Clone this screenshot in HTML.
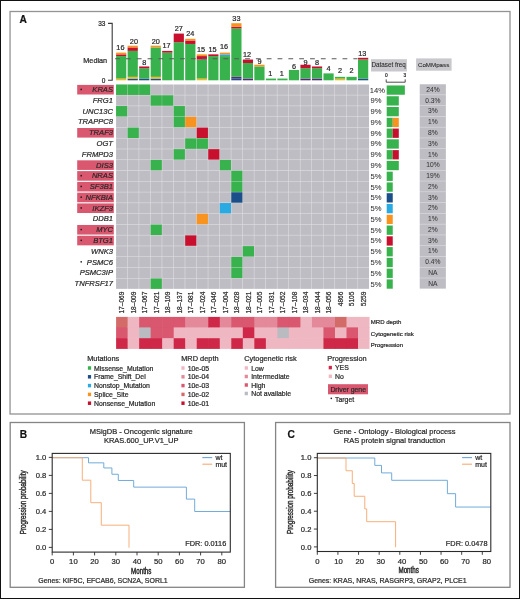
<!DOCTYPE html>
<html><head><meta charset="utf-8"><title>Figure</title>
<style>html,body{margin:0;padding:0;background:#fff;}body{width:520px;height:599px;overflow:hidden;font-family:"Liberation Sans", sans-serif;}</style>
</head><body>
<svg width="520" height="599" viewBox="0 0 520 599" style="display:block">
<rect x="0" y="0" width="520" height="599" fill="#fff"/>
<rect x="0.5" y="0.5" width="519" height="598" fill="none" stroke="#111" stroke-width="1"/>
<rect x="10.05" y="11.5" width="499.95" height="402.5" fill="none" stroke="#939393" stroke-width="1.3"/>
<rect x="10.2" y="422.5" width="234.2" height="164.8" fill="none" stroke="#858585" stroke-width="1.3"/>
<rect x="275.6" y="422.5" width="234.4" height="164.8" fill="none" stroke="#858585" stroke-width="1.3"/>
<rect x="116.10" y="78.57" width="10.2" height="1.73" fill="#f6b81a"/>
<rect x="116.10" y="56.08" width="10.2" height="22.49" fill="#38b24c"/>
<rect x="116.10" y="54.35" width="10.2" height="1.73" fill="#c8102e"/>
<rect x="116.10" y="52.62" width="10.2" height="1.73" fill="#f7931e"/>
<rect x="127.62" y="78.57" width="10.2" height="1.73" fill="#1b4f8a"/>
<rect x="127.62" y="76.84" width="10.2" height="1.73" fill="#f6b81a"/>
<rect x="127.62" y="50.89" width="10.2" height="25.95" fill="#38b24c"/>
<rect x="127.62" y="47.43" width="10.2" height="3.46" fill="#c8102e"/>
<rect x="127.62" y="45.70" width="10.2" height="1.73" fill="#f7931e"/>
<rect x="139.14" y="78.57" width="10.2" height="1.73" fill="#1b4f8a"/>
<rect x="139.14" y="68.19" width="10.2" height="10.38" fill="#38b24c"/>
<rect x="139.14" y="66.46" width="10.2" height="1.73" fill="#c8102e"/>
<rect x="150.66" y="78.57" width="10.2" height="1.73" fill="#1b4f8a"/>
<rect x="150.66" y="76.84" width="10.2" height="1.73" fill="#f6b81a"/>
<rect x="150.66" y="47.43" width="10.2" height="29.41" fill="#38b24c"/>
<rect x="150.66" y="45.70" width="10.2" height="1.73" fill="#f7931e"/>
<rect x="162.18" y="52.62" width="10.2" height="27.68" fill="#38b24c"/>
<rect x="162.18" y="50.89" width="10.2" height="1.73" fill="#c8102e"/>
<rect x="173.70" y="42.24" width="10.2" height="38.06" fill="#38b24c"/>
<rect x="173.70" y="33.59" width="10.2" height="8.65" fill="#c8102e"/>
<rect x="185.22" y="43.97" width="10.2" height="36.33" fill="#38b24c"/>
<rect x="185.22" y="40.51" width="10.2" height="3.46" fill="#c8102e"/>
<rect x="185.22" y="38.78" width="10.2" height="1.73" fill="#f7931e"/>
<rect x="196.74" y="78.57" width="10.2" height="1.73" fill="#f6b81a"/>
<rect x="196.74" y="59.54" width="10.2" height="19.03" fill="#38b24c"/>
<rect x="196.74" y="56.08" width="10.2" height="3.46" fill="#c8102e"/>
<rect x="196.74" y="54.35" width="10.2" height="1.73" fill="#f7931e"/>
<rect x="208.26" y="56.08" width="10.2" height="24.22" fill="#38b24c"/>
<rect x="208.26" y="54.35" width="10.2" height="1.73" fill="#c8102e"/>
<rect x="219.78" y="56.08" width="10.2" height="24.22" fill="#38b24c"/>
<rect x="219.78" y="54.35" width="10.2" height="1.73" fill="#2aaae2"/>
<rect x="219.78" y="52.62" width="10.2" height="1.73" fill="#f7931e"/>
<rect x="231.30" y="78.57" width="10.2" height="1.73" fill="#1b4f8a"/>
<rect x="231.30" y="76.84" width="10.2" height="1.73" fill="#5a2580"/>
<rect x="231.30" y="28.40" width="10.2" height="48.44" fill="#38b24c"/>
<rect x="231.30" y="26.67" width="10.2" height="1.73" fill="#c8102e"/>
<rect x="231.30" y="23.21" width="10.2" height="3.46" fill="#f7931e"/>
<rect x="242.82" y="78.57" width="10.2" height="1.73" fill="#5a2580"/>
<rect x="242.82" y="63.00" width="10.2" height="15.57" fill="#38b24c"/>
<rect x="242.82" y="59.54" width="10.2" height="3.46" fill="#c8102e"/>
<rect x="254.34" y="66.46" width="10.2" height="13.84" fill="#38b24c"/>
<rect x="254.34" y="64.73" width="10.2" height="1.73" fill="#f7931e"/>
<rect x="265.86" y="78.57" width="10.2" height="1.73" fill="#38b24c"/>
<rect x="277.38" y="78.57" width="10.2" height="1.73" fill="#38b24c"/>
<rect x="288.90" y="69.92" width="10.2" height="10.38" fill="#38b24c"/>
<rect x="300.42" y="78.57" width="10.2" height="1.73" fill="#5a2580"/>
<rect x="300.42" y="68.19" width="10.2" height="10.38" fill="#38b24c"/>
<rect x="300.42" y="64.73" width="10.2" height="3.46" fill="#c8102e"/>
<rect x="311.94" y="78.57" width="10.2" height="1.73" fill="#5a2580"/>
<rect x="311.94" y="68.19" width="10.2" height="10.38" fill="#38b24c"/>
<rect x="311.94" y="66.46" width="10.2" height="1.73" fill="#c8102e"/>
<rect x="323.46" y="73.38" width="10.2" height="6.92" fill="#38b24c"/>
<rect x="334.98" y="78.57" width="10.2" height="1.73" fill="#f6b81a"/>
<rect x="334.98" y="76.84" width="10.2" height="1.73" fill="#38b24c"/>
<rect x="346.50" y="76.84" width="10.2" height="3.46" fill="#38b24c"/>
<rect x="358.02" y="78.57" width="10.2" height="1.73" fill="#1b4f8a"/>
<rect x="358.02" y="59.54" width="10.2" height="19.03" fill="#38b24c"/>
<rect x="358.02" y="57.81" width="10.2" height="1.73" fill="#c8102e"/>
<line x1="115.1" y1="58.8" x2="357.5" y2="58.8" stroke="#5a5a5a" stroke-width="1.05" stroke-dasharray="4.8 6.03"/>
<path d="M108 23.4 H112.2 V80.3 H108" fill="none" stroke="#3a3a3a" stroke-width="1.1"/>
<rect x="371" y="59.2" width="35.9" height="12.3" fill="#c9c9cd"/>
<rect x="416.1" y="58.4" width="35.5" height="12.3" fill="#c9c9cd"/>
<path d="M386.2 79.4 V82.2 H405.2 V79.4" fill="none" stroke="#3a3a3a" stroke-width="0.9"/>
<rect x="77.2" y="84.90" width="36.6" height="9.6" fill="#d9586f"/>
<circle cx="81.2" cy="89.45" r="0.85" fill="#222"/>
<rect x="77.2" y="128.00" width="36.6" height="9.6" fill="#d9586f"/>
<rect x="77.2" y="160.32" width="36.6" height="9.6" fill="#d9586f"/>
<rect x="77.2" y="171.10" width="36.6" height="9.6" fill="#d9586f"/>
<circle cx="81.2" cy="175.65" r="0.85" fill="#222"/>
<rect x="77.2" y="181.88" width="36.6" height="9.6" fill="#d9586f"/>
<circle cx="81.2" cy="186.43" r="0.85" fill="#222"/>
<rect x="77.2" y="192.65" width="36.6" height="9.6" fill="#d9586f"/>
<circle cx="81.2" cy="197.20" r="0.85" fill="#222"/>
<rect x="77.2" y="203.42" width="36.6" height="9.6" fill="#d9586f"/>
<circle cx="81.2" cy="207.97" r="0.85" fill="#222"/>
<rect x="77.2" y="224.97" width="36.6" height="9.6" fill="#d9586f"/>
<circle cx="81.2" cy="229.53" r="0.85" fill="#222"/>
<rect x="77.2" y="235.75" width="36.6" height="9.6" fill="#d9586f"/>
<circle cx="81.2" cy="240.30" r="0.85" fill="#222"/>
<circle cx="81.2" cy="261.85" r="0.85" fill="#222"/>
<rect x="116.15" y="84.60" width="252.89" height="204.17" fill="#e0e0e4"/>
<rect x="116.05" y="84.50" width="11.25" height="10.45" fill="#38b24c"/>
<rect x="127.57" y="84.50" width="11.25" height="10.45" fill="#38b24c"/>
<rect x="139.09" y="84.50" width="11.25" height="10.45" fill="#38b24c"/>
<rect x="150.71" y="84.60" width="10.97" height="10.225" fill="#bebdc3"/>
<rect x="162.23" y="84.60" width="10.97" height="10.225" fill="#bebdc3"/>
<rect x="173.75" y="84.60" width="10.97" height="10.225" fill="#bebdc3"/>
<rect x="185.27" y="84.60" width="10.97" height="10.225" fill="#bebdc3"/>
<rect x="196.79" y="84.60" width="10.97" height="10.225" fill="#bebdc3"/>
<rect x="208.31" y="84.60" width="10.97" height="10.225" fill="#bebdc3"/>
<rect x="219.83" y="84.60" width="10.97" height="10.225" fill="#bebdc3"/>
<rect x="231.35" y="84.60" width="10.97" height="10.225" fill="#bebdc3"/>
<rect x="242.87" y="84.60" width="10.97" height="10.225" fill="#bebdc3"/>
<rect x="254.39" y="84.60" width="10.97" height="10.225" fill="#bebdc3"/>
<rect x="265.91" y="84.60" width="10.97" height="10.225" fill="#bebdc3"/>
<rect x="277.43" y="84.60" width="10.97" height="10.225" fill="#bebdc3"/>
<rect x="288.95" y="84.60" width="10.97" height="10.225" fill="#bebdc3"/>
<rect x="300.47" y="84.60" width="10.97" height="10.225" fill="#bebdc3"/>
<rect x="311.99" y="84.60" width="10.97" height="10.225" fill="#bebdc3"/>
<rect x="323.51" y="84.60" width="10.97" height="10.225" fill="#bebdc3"/>
<rect x="335.03" y="84.60" width="10.97" height="10.225" fill="#bebdc3"/>
<rect x="346.55" y="84.60" width="10.97" height="10.225" fill="#bebdc3"/>
<rect x="358.07" y="84.60" width="10.97" height="10.225" fill="#bebdc3"/>
<rect x="116.15" y="95.38" width="10.97" height="10.225" fill="#bebdc3"/>
<rect x="127.67" y="95.38" width="10.97" height="10.225" fill="#bebdc3"/>
<rect x="139.19" y="95.38" width="10.97" height="10.225" fill="#bebdc3"/>
<rect x="150.61" y="95.28" width="11.25" height="10.45" fill="#38b24c"/>
<rect x="162.13" y="95.28" width="11.25" height="10.45" fill="#38b24c"/>
<rect x="173.75" y="95.38" width="10.97" height="10.225" fill="#bebdc3"/>
<rect x="185.27" y="95.38" width="10.97" height="10.225" fill="#bebdc3"/>
<rect x="196.79" y="95.38" width="10.97" height="10.225" fill="#bebdc3"/>
<rect x="208.31" y="95.38" width="10.97" height="10.225" fill="#bebdc3"/>
<rect x="219.83" y="95.38" width="10.97" height="10.225" fill="#bebdc3"/>
<rect x="231.35" y="95.38" width="10.97" height="10.225" fill="#bebdc3"/>
<rect x="242.87" y="95.38" width="10.97" height="10.225" fill="#bebdc3"/>
<rect x="254.39" y="95.38" width="10.97" height="10.225" fill="#bebdc3"/>
<rect x="265.91" y="95.38" width="10.97" height="10.225" fill="#bebdc3"/>
<rect x="277.43" y="95.38" width="10.97" height="10.225" fill="#bebdc3"/>
<rect x="288.95" y="95.38" width="10.97" height="10.225" fill="#bebdc3"/>
<rect x="300.47" y="95.38" width="10.97" height="10.225" fill="#bebdc3"/>
<rect x="311.99" y="95.38" width="10.97" height="10.225" fill="#bebdc3"/>
<rect x="323.51" y="95.38" width="10.97" height="10.225" fill="#bebdc3"/>
<rect x="335.03" y="95.38" width="10.97" height="10.225" fill="#bebdc3"/>
<rect x="346.55" y="95.38" width="10.97" height="10.225" fill="#bebdc3"/>
<rect x="358.07" y="95.38" width="10.97" height="10.225" fill="#bebdc3"/>
<rect x="116.05" y="106.05" width="11.25" height="10.45" fill="#38b24c"/>
<rect x="127.67" y="106.15" width="10.97" height="10.225" fill="#bebdc3"/>
<rect x="139.19" y="106.15" width="10.97" height="10.225" fill="#bebdc3"/>
<rect x="150.71" y="106.15" width="10.97" height="10.225" fill="#bebdc3"/>
<rect x="162.23" y="106.15" width="10.97" height="10.225" fill="#bebdc3"/>
<rect x="173.65" y="106.05" width="11.25" height="10.45" fill="#38b24c"/>
<rect x="185.27" y="106.15" width="10.97" height="10.225" fill="#bebdc3"/>
<rect x="196.79" y="106.15" width="10.97" height="10.225" fill="#bebdc3"/>
<rect x="208.31" y="106.15" width="10.97" height="10.225" fill="#bebdc3"/>
<rect x="219.83" y="106.15" width="10.97" height="10.225" fill="#bebdc3"/>
<rect x="231.35" y="106.15" width="10.97" height="10.225" fill="#bebdc3"/>
<rect x="242.87" y="106.15" width="10.97" height="10.225" fill="#bebdc3"/>
<rect x="254.39" y="106.15" width="10.97" height="10.225" fill="#bebdc3"/>
<rect x="265.91" y="106.15" width="10.97" height="10.225" fill="#bebdc3"/>
<rect x="277.43" y="106.15" width="10.97" height="10.225" fill="#bebdc3"/>
<rect x="288.95" y="106.15" width="10.97" height="10.225" fill="#bebdc3"/>
<rect x="300.47" y="106.15" width="10.97" height="10.225" fill="#bebdc3"/>
<rect x="311.99" y="106.15" width="10.97" height="10.225" fill="#bebdc3"/>
<rect x="323.51" y="106.15" width="10.97" height="10.225" fill="#bebdc3"/>
<rect x="335.03" y="106.15" width="10.97" height="10.225" fill="#bebdc3"/>
<rect x="346.55" y="106.15" width="10.97" height="10.225" fill="#bebdc3"/>
<rect x="358.07" y="106.15" width="10.97" height="10.225" fill="#bebdc3"/>
<rect x="116.15" y="116.92" width="10.97" height="10.225" fill="#bebdc3"/>
<rect x="127.67" y="116.92" width="10.97" height="10.225" fill="#bebdc3"/>
<rect x="139.19" y="116.92" width="10.97" height="10.225" fill="#bebdc3"/>
<rect x="150.71" y="116.92" width="10.97" height="10.225" fill="#bebdc3"/>
<rect x="162.23" y="116.92" width="10.97" height="10.225" fill="#bebdc3"/>
<rect x="173.65" y="116.83" width="11.25" height="10.45" fill="#38b24c"/>
<rect x="185.17" y="116.83" width="11.25" height="10.45" fill="#f7931e"/>
<rect x="196.79" y="116.92" width="10.97" height="10.225" fill="#bebdc3"/>
<rect x="208.31" y="116.92" width="10.97" height="10.225" fill="#bebdc3"/>
<rect x="219.83" y="116.92" width="10.97" height="10.225" fill="#bebdc3"/>
<rect x="231.35" y="116.92" width="10.97" height="10.225" fill="#bebdc3"/>
<rect x="242.87" y="116.92" width="10.97" height="10.225" fill="#bebdc3"/>
<rect x="254.39" y="116.92" width="10.97" height="10.225" fill="#bebdc3"/>
<rect x="265.91" y="116.92" width="10.97" height="10.225" fill="#bebdc3"/>
<rect x="277.43" y="116.92" width="10.97" height="10.225" fill="#bebdc3"/>
<rect x="288.95" y="116.92" width="10.97" height="10.225" fill="#bebdc3"/>
<rect x="300.47" y="116.92" width="10.97" height="10.225" fill="#bebdc3"/>
<rect x="311.99" y="116.92" width="10.97" height="10.225" fill="#bebdc3"/>
<rect x="323.51" y="116.92" width="10.97" height="10.225" fill="#bebdc3"/>
<rect x="335.03" y="116.92" width="10.97" height="10.225" fill="#bebdc3"/>
<rect x="346.55" y="116.92" width="10.97" height="10.225" fill="#bebdc3"/>
<rect x="358.07" y="116.92" width="10.97" height="10.225" fill="#bebdc3"/>
<rect x="116.15" y="127.70" width="10.97" height="10.225" fill="#bebdc3"/>
<rect x="127.57" y="127.60" width="11.25" height="10.45" fill="#38b24c"/>
<rect x="139.19" y="127.70" width="10.97" height="10.225" fill="#bebdc3"/>
<rect x="150.71" y="127.70" width="10.97" height="10.225" fill="#bebdc3"/>
<rect x="162.23" y="127.70" width="10.97" height="10.225" fill="#bebdc3"/>
<rect x="173.75" y="127.70" width="10.97" height="10.225" fill="#bebdc3"/>
<rect x="185.27" y="127.70" width="10.97" height="10.225" fill="#bebdc3"/>
<rect x="196.69" y="127.60" width="11.25" height="10.45" fill="#c8102e"/>
<rect x="208.31" y="127.70" width="10.97" height="10.225" fill="#bebdc3"/>
<rect x="219.83" y="127.70" width="10.97" height="10.225" fill="#bebdc3"/>
<rect x="231.35" y="127.70" width="10.97" height="10.225" fill="#bebdc3"/>
<rect x="242.87" y="127.70" width="10.97" height="10.225" fill="#bebdc3"/>
<rect x="254.39" y="127.70" width="10.97" height="10.225" fill="#bebdc3"/>
<rect x="265.91" y="127.70" width="10.97" height="10.225" fill="#bebdc3"/>
<rect x="277.43" y="127.70" width="10.97" height="10.225" fill="#bebdc3"/>
<rect x="288.95" y="127.70" width="10.97" height="10.225" fill="#bebdc3"/>
<rect x="300.47" y="127.70" width="10.97" height="10.225" fill="#bebdc3"/>
<rect x="311.99" y="127.70" width="10.97" height="10.225" fill="#bebdc3"/>
<rect x="323.51" y="127.70" width="10.97" height="10.225" fill="#bebdc3"/>
<rect x="335.03" y="127.70" width="10.97" height="10.225" fill="#bebdc3"/>
<rect x="346.55" y="127.70" width="10.97" height="10.225" fill="#bebdc3"/>
<rect x="358.07" y="127.70" width="10.97" height="10.225" fill="#bebdc3"/>
<rect x="116.15" y="138.48" width="10.97" height="10.225" fill="#bebdc3"/>
<rect x="127.67" y="138.48" width="10.97" height="10.225" fill="#bebdc3"/>
<rect x="139.19" y="138.48" width="10.97" height="10.225" fill="#bebdc3"/>
<rect x="150.71" y="138.48" width="10.97" height="10.225" fill="#bebdc3"/>
<rect x="162.23" y="138.48" width="10.97" height="10.225" fill="#bebdc3"/>
<rect x="173.75" y="138.48" width="10.97" height="10.225" fill="#bebdc3"/>
<rect x="185.17" y="138.38" width="11.25" height="10.45" fill="#38b24c"/>
<rect x="196.69" y="138.38" width="11.25" height="10.45" fill="#38b24c"/>
<rect x="208.31" y="138.48" width="10.97" height="10.225" fill="#bebdc3"/>
<rect x="219.83" y="138.48" width="10.97" height="10.225" fill="#bebdc3"/>
<rect x="231.35" y="138.48" width="10.97" height="10.225" fill="#bebdc3"/>
<rect x="242.87" y="138.48" width="10.97" height="10.225" fill="#bebdc3"/>
<rect x="254.39" y="138.48" width="10.97" height="10.225" fill="#bebdc3"/>
<rect x="265.91" y="138.48" width="10.97" height="10.225" fill="#bebdc3"/>
<rect x="277.43" y="138.48" width="10.97" height="10.225" fill="#bebdc3"/>
<rect x="288.95" y="138.48" width="10.97" height="10.225" fill="#bebdc3"/>
<rect x="300.47" y="138.48" width="10.97" height="10.225" fill="#bebdc3"/>
<rect x="311.99" y="138.48" width="10.97" height="10.225" fill="#bebdc3"/>
<rect x="323.51" y="138.48" width="10.97" height="10.225" fill="#bebdc3"/>
<rect x="335.03" y="138.48" width="10.97" height="10.225" fill="#bebdc3"/>
<rect x="346.55" y="138.48" width="10.97" height="10.225" fill="#bebdc3"/>
<rect x="358.07" y="138.48" width="10.97" height="10.225" fill="#bebdc3"/>
<rect x="116.15" y="149.25" width="10.97" height="10.225" fill="#bebdc3"/>
<rect x="127.67" y="149.25" width="10.97" height="10.225" fill="#bebdc3"/>
<rect x="139.19" y="149.25" width="10.97" height="10.225" fill="#bebdc3"/>
<rect x="150.71" y="149.25" width="10.97" height="10.225" fill="#bebdc3"/>
<rect x="162.23" y="149.25" width="10.97" height="10.225" fill="#bebdc3"/>
<rect x="173.65" y="149.15" width="11.25" height="10.45" fill="#38b24c"/>
<rect x="185.27" y="149.25" width="10.97" height="10.225" fill="#bebdc3"/>
<rect x="196.79" y="149.25" width="10.97" height="10.225" fill="#bebdc3"/>
<rect x="208.21" y="149.15" width="11.25" height="10.45" fill="#c8102e"/>
<rect x="219.83" y="149.25" width="10.97" height="10.225" fill="#bebdc3"/>
<rect x="231.35" y="149.25" width="10.97" height="10.225" fill="#bebdc3"/>
<rect x="242.87" y="149.25" width="10.97" height="10.225" fill="#bebdc3"/>
<rect x="254.39" y="149.25" width="10.97" height="10.225" fill="#bebdc3"/>
<rect x="265.91" y="149.25" width="10.97" height="10.225" fill="#bebdc3"/>
<rect x="277.43" y="149.25" width="10.97" height="10.225" fill="#bebdc3"/>
<rect x="288.95" y="149.25" width="10.97" height="10.225" fill="#bebdc3"/>
<rect x="300.47" y="149.25" width="10.97" height="10.225" fill="#bebdc3"/>
<rect x="311.99" y="149.25" width="10.97" height="10.225" fill="#bebdc3"/>
<rect x="323.51" y="149.25" width="10.97" height="10.225" fill="#bebdc3"/>
<rect x="335.03" y="149.25" width="10.97" height="10.225" fill="#bebdc3"/>
<rect x="346.55" y="149.25" width="10.97" height="10.225" fill="#bebdc3"/>
<rect x="358.07" y="149.25" width="10.97" height="10.225" fill="#bebdc3"/>
<rect x="116.15" y="160.03" width="10.97" height="10.225" fill="#bebdc3"/>
<rect x="127.67" y="160.03" width="10.97" height="10.225" fill="#bebdc3"/>
<rect x="139.19" y="160.03" width="10.97" height="10.225" fill="#bebdc3"/>
<rect x="150.61" y="159.92" width="11.25" height="10.45" fill="#38b24c"/>
<rect x="162.23" y="160.03" width="10.97" height="10.225" fill="#bebdc3"/>
<rect x="173.75" y="160.03" width="10.97" height="10.225" fill="#bebdc3"/>
<rect x="185.27" y="160.03" width="10.97" height="10.225" fill="#bebdc3"/>
<rect x="196.79" y="160.03" width="10.97" height="10.225" fill="#bebdc3"/>
<rect x="208.31" y="160.03" width="10.97" height="10.225" fill="#bebdc3"/>
<rect x="219.73" y="159.92" width="11.25" height="10.45" fill="#38b24c"/>
<rect x="231.35" y="160.03" width="10.97" height="10.225" fill="#bebdc3"/>
<rect x="242.87" y="160.03" width="10.97" height="10.225" fill="#bebdc3"/>
<rect x="254.39" y="160.03" width="10.97" height="10.225" fill="#bebdc3"/>
<rect x="265.91" y="160.03" width="10.97" height="10.225" fill="#bebdc3"/>
<rect x="277.43" y="160.03" width="10.97" height="10.225" fill="#bebdc3"/>
<rect x="288.95" y="160.03" width="10.97" height="10.225" fill="#bebdc3"/>
<rect x="300.47" y="160.03" width="10.97" height="10.225" fill="#bebdc3"/>
<rect x="311.99" y="160.03" width="10.97" height="10.225" fill="#bebdc3"/>
<rect x="323.51" y="160.03" width="10.97" height="10.225" fill="#bebdc3"/>
<rect x="335.03" y="160.03" width="10.97" height="10.225" fill="#bebdc3"/>
<rect x="346.55" y="160.03" width="10.97" height="10.225" fill="#bebdc3"/>
<rect x="358.07" y="160.03" width="10.97" height="10.225" fill="#bebdc3"/>
<rect x="116.15" y="170.80" width="10.97" height="10.225" fill="#bebdc3"/>
<rect x="127.67" y="170.80" width="10.97" height="10.225" fill="#bebdc3"/>
<rect x="139.19" y="170.80" width="10.97" height="10.225" fill="#bebdc3"/>
<rect x="150.71" y="170.80" width="10.97" height="10.225" fill="#bebdc3"/>
<rect x="162.23" y="170.80" width="10.97" height="10.225" fill="#bebdc3"/>
<rect x="173.75" y="170.80" width="10.97" height="10.225" fill="#bebdc3"/>
<rect x="185.27" y="170.80" width="10.97" height="10.225" fill="#bebdc3"/>
<rect x="196.79" y="170.80" width="10.97" height="10.225" fill="#bebdc3"/>
<rect x="208.31" y="170.80" width="10.97" height="10.225" fill="#bebdc3"/>
<rect x="219.83" y="170.80" width="10.97" height="10.225" fill="#bebdc3"/>
<rect x="231.25" y="170.70" width="11.25" height="10.45" fill="#38b24c"/>
<rect x="242.87" y="170.80" width="10.97" height="10.225" fill="#bebdc3"/>
<rect x="254.39" y="170.80" width="10.97" height="10.225" fill="#bebdc3"/>
<rect x="265.91" y="170.80" width="10.97" height="10.225" fill="#bebdc3"/>
<rect x="277.43" y="170.80" width="10.97" height="10.225" fill="#bebdc3"/>
<rect x="288.95" y="170.80" width="10.97" height="10.225" fill="#bebdc3"/>
<rect x="300.47" y="170.80" width="10.97" height="10.225" fill="#bebdc3"/>
<rect x="311.99" y="170.80" width="10.97" height="10.225" fill="#bebdc3"/>
<rect x="323.51" y="170.80" width="10.97" height="10.225" fill="#bebdc3"/>
<rect x="335.03" y="170.80" width="10.97" height="10.225" fill="#bebdc3"/>
<rect x="346.55" y="170.80" width="10.97" height="10.225" fill="#bebdc3"/>
<rect x="358.07" y="170.80" width="10.97" height="10.225" fill="#bebdc3"/>
<rect x="116.15" y="181.58" width="10.97" height="10.225" fill="#bebdc3"/>
<rect x="127.67" y="181.58" width="10.97" height="10.225" fill="#bebdc3"/>
<rect x="139.19" y="181.58" width="10.97" height="10.225" fill="#bebdc3"/>
<rect x="150.71" y="181.58" width="10.97" height="10.225" fill="#bebdc3"/>
<rect x="162.23" y="181.58" width="10.97" height="10.225" fill="#bebdc3"/>
<rect x="173.75" y="181.58" width="10.97" height="10.225" fill="#bebdc3"/>
<rect x="185.27" y="181.58" width="10.97" height="10.225" fill="#bebdc3"/>
<rect x="196.79" y="181.58" width="10.97" height="10.225" fill="#bebdc3"/>
<rect x="208.31" y="181.58" width="10.97" height="10.225" fill="#bebdc3"/>
<rect x="219.83" y="181.58" width="10.97" height="10.225" fill="#bebdc3"/>
<rect x="231.25" y="181.47" width="11.25" height="10.45" fill="#38b24c"/>
<rect x="242.87" y="181.58" width="10.97" height="10.225" fill="#bebdc3"/>
<rect x="254.39" y="181.58" width="10.97" height="10.225" fill="#bebdc3"/>
<rect x="265.91" y="181.58" width="10.97" height="10.225" fill="#bebdc3"/>
<rect x="277.43" y="181.58" width="10.97" height="10.225" fill="#bebdc3"/>
<rect x="288.95" y="181.58" width="10.97" height="10.225" fill="#bebdc3"/>
<rect x="300.47" y="181.58" width="10.97" height="10.225" fill="#bebdc3"/>
<rect x="311.99" y="181.58" width="10.97" height="10.225" fill="#bebdc3"/>
<rect x="323.51" y="181.58" width="10.97" height="10.225" fill="#bebdc3"/>
<rect x="335.03" y="181.58" width="10.97" height="10.225" fill="#bebdc3"/>
<rect x="346.55" y="181.58" width="10.97" height="10.225" fill="#bebdc3"/>
<rect x="358.07" y="181.58" width="10.97" height="10.225" fill="#bebdc3"/>
<rect x="116.15" y="192.35" width="10.97" height="10.225" fill="#bebdc3"/>
<rect x="127.67" y="192.35" width="10.97" height="10.225" fill="#bebdc3"/>
<rect x="139.19" y="192.35" width="10.97" height="10.225" fill="#bebdc3"/>
<rect x="150.71" y="192.35" width="10.97" height="10.225" fill="#bebdc3"/>
<rect x="162.23" y="192.35" width="10.97" height="10.225" fill="#bebdc3"/>
<rect x="173.75" y="192.35" width="10.97" height="10.225" fill="#bebdc3"/>
<rect x="185.27" y="192.35" width="10.97" height="10.225" fill="#bebdc3"/>
<rect x="196.79" y="192.35" width="10.97" height="10.225" fill="#bebdc3"/>
<rect x="208.31" y="192.35" width="10.97" height="10.225" fill="#bebdc3"/>
<rect x="219.83" y="192.35" width="10.97" height="10.225" fill="#bebdc3"/>
<rect x="231.25" y="192.25" width="11.25" height="10.45" fill="#1b4f8a"/>
<rect x="242.87" y="192.35" width="10.97" height="10.225" fill="#bebdc3"/>
<rect x="254.39" y="192.35" width="10.97" height="10.225" fill="#bebdc3"/>
<rect x="265.91" y="192.35" width="10.97" height="10.225" fill="#bebdc3"/>
<rect x="277.43" y="192.35" width="10.97" height="10.225" fill="#bebdc3"/>
<rect x="288.95" y="192.35" width="10.97" height="10.225" fill="#bebdc3"/>
<rect x="300.47" y="192.35" width="10.97" height="10.225" fill="#bebdc3"/>
<rect x="311.99" y="192.35" width="10.97" height="10.225" fill="#bebdc3"/>
<rect x="323.51" y="192.35" width="10.97" height="10.225" fill="#bebdc3"/>
<rect x="335.03" y="192.35" width="10.97" height="10.225" fill="#bebdc3"/>
<rect x="346.55" y="192.35" width="10.97" height="10.225" fill="#bebdc3"/>
<rect x="358.07" y="192.35" width="10.97" height="10.225" fill="#bebdc3"/>
<rect x="116.15" y="203.12" width="10.97" height="10.225" fill="#bebdc3"/>
<rect x="127.67" y="203.12" width="10.97" height="10.225" fill="#bebdc3"/>
<rect x="139.19" y="203.12" width="10.97" height="10.225" fill="#bebdc3"/>
<rect x="150.71" y="203.12" width="10.97" height="10.225" fill="#bebdc3"/>
<rect x="162.23" y="203.12" width="10.97" height="10.225" fill="#bebdc3"/>
<rect x="173.75" y="203.12" width="10.97" height="10.225" fill="#bebdc3"/>
<rect x="185.27" y="203.12" width="10.97" height="10.225" fill="#bebdc3"/>
<rect x="196.79" y="203.12" width="10.97" height="10.225" fill="#bebdc3"/>
<rect x="208.31" y="203.12" width="10.97" height="10.225" fill="#bebdc3"/>
<rect x="219.73" y="203.02" width="11.25" height="10.45" fill="#2aaae2"/>
<rect x="231.35" y="203.12" width="10.97" height="10.225" fill="#bebdc3"/>
<rect x="242.87" y="203.12" width="10.97" height="10.225" fill="#bebdc3"/>
<rect x="254.39" y="203.12" width="10.97" height="10.225" fill="#bebdc3"/>
<rect x="265.91" y="203.12" width="10.97" height="10.225" fill="#bebdc3"/>
<rect x="277.43" y="203.12" width="10.97" height="10.225" fill="#bebdc3"/>
<rect x="288.95" y="203.12" width="10.97" height="10.225" fill="#bebdc3"/>
<rect x="300.47" y="203.12" width="10.97" height="10.225" fill="#bebdc3"/>
<rect x="311.99" y="203.12" width="10.97" height="10.225" fill="#bebdc3"/>
<rect x="323.51" y="203.12" width="10.97" height="10.225" fill="#bebdc3"/>
<rect x="335.03" y="203.12" width="10.97" height="10.225" fill="#bebdc3"/>
<rect x="346.55" y="203.12" width="10.97" height="10.225" fill="#bebdc3"/>
<rect x="358.07" y="203.12" width="10.97" height="10.225" fill="#bebdc3"/>
<rect x="116.15" y="213.90" width="10.97" height="10.225" fill="#bebdc3"/>
<rect x="127.67" y="213.90" width="10.97" height="10.225" fill="#bebdc3"/>
<rect x="139.19" y="213.90" width="10.97" height="10.225" fill="#bebdc3"/>
<rect x="150.71" y="213.90" width="10.97" height="10.225" fill="#bebdc3"/>
<rect x="162.23" y="213.90" width="10.97" height="10.225" fill="#bebdc3"/>
<rect x="173.75" y="213.90" width="10.97" height="10.225" fill="#bebdc3"/>
<rect x="185.27" y="213.90" width="10.97" height="10.225" fill="#bebdc3"/>
<rect x="196.69" y="213.80" width="11.25" height="10.45" fill="#f7931e"/>
<rect x="208.31" y="213.90" width="10.97" height="10.225" fill="#bebdc3"/>
<rect x="219.83" y="213.90" width="10.97" height="10.225" fill="#bebdc3"/>
<rect x="231.35" y="213.90" width="10.97" height="10.225" fill="#bebdc3"/>
<rect x="242.87" y="213.90" width="10.97" height="10.225" fill="#bebdc3"/>
<rect x="254.39" y="213.90" width="10.97" height="10.225" fill="#bebdc3"/>
<rect x="265.91" y="213.90" width="10.97" height="10.225" fill="#bebdc3"/>
<rect x="277.43" y="213.90" width="10.97" height="10.225" fill="#bebdc3"/>
<rect x="288.95" y="213.90" width="10.97" height="10.225" fill="#bebdc3"/>
<rect x="300.47" y="213.90" width="10.97" height="10.225" fill="#bebdc3"/>
<rect x="311.99" y="213.90" width="10.97" height="10.225" fill="#bebdc3"/>
<rect x="323.51" y="213.90" width="10.97" height="10.225" fill="#bebdc3"/>
<rect x="335.03" y="213.90" width="10.97" height="10.225" fill="#bebdc3"/>
<rect x="346.55" y="213.90" width="10.97" height="10.225" fill="#bebdc3"/>
<rect x="358.07" y="213.90" width="10.97" height="10.225" fill="#bebdc3"/>
<rect x="116.15" y="224.68" width="10.97" height="10.225" fill="#bebdc3"/>
<rect x="127.67" y="224.68" width="10.97" height="10.225" fill="#bebdc3"/>
<rect x="139.19" y="224.68" width="10.97" height="10.225" fill="#bebdc3"/>
<rect x="150.61" y="224.57" width="11.25" height="10.45" fill="#38b24c"/>
<rect x="162.23" y="224.68" width="10.97" height="10.225" fill="#bebdc3"/>
<rect x="173.75" y="224.68" width="10.97" height="10.225" fill="#bebdc3"/>
<rect x="185.27" y="224.68" width="10.97" height="10.225" fill="#bebdc3"/>
<rect x="196.79" y="224.68" width="10.97" height="10.225" fill="#bebdc3"/>
<rect x="208.31" y="224.68" width="10.97" height="10.225" fill="#bebdc3"/>
<rect x="219.83" y="224.68" width="10.97" height="10.225" fill="#bebdc3"/>
<rect x="231.35" y="224.68" width="10.97" height="10.225" fill="#bebdc3"/>
<rect x="242.87" y="224.68" width="10.97" height="10.225" fill="#bebdc3"/>
<rect x="254.39" y="224.68" width="10.97" height="10.225" fill="#bebdc3"/>
<rect x="265.91" y="224.68" width="10.97" height="10.225" fill="#bebdc3"/>
<rect x="277.43" y="224.68" width="10.97" height="10.225" fill="#bebdc3"/>
<rect x="288.95" y="224.68" width="10.97" height="10.225" fill="#bebdc3"/>
<rect x="300.47" y="224.68" width="10.97" height="10.225" fill="#bebdc3"/>
<rect x="311.99" y="224.68" width="10.97" height="10.225" fill="#bebdc3"/>
<rect x="323.51" y="224.68" width="10.97" height="10.225" fill="#bebdc3"/>
<rect x="335.03" y="224.68" width="10.97" height="10.225" fill="#bebdc3"/>
<rect x="346.55" y="224.68" width="10.97" height="10.225" fill="#bebdc3"/>
<rect x="358.07" y="224.68" width="10.97" height="10.225" fill="#bebdc3"/>
<rect x="116.15" y="235.45" width="10.97" height="10.225" fill="#bebdc3"/>
<rect x="127.67" y="235.45" width="10.97" height="10.225" fill="#bebdc3"/>
<rect x="139.19" y="235.45" width="10.97" height="10.225" fill="#bebdc3"/>
<rect x="150.71" y="235.45" width="10.97" height="10.225" fill="#bebdc3"/>
<rect x="162.23" y="235.45" width="10.97" height="10.225" fill="#bebdc3"/>
<rect x="173.75" y="235.45" width="10.97" height="10.225" fill="#bebdc3"/>
<rect x="185.17" y="235.35" width="11.25" height="10.45" fill="#c8102e"/>
<rect x="196.79" y="235.45" width="10.97" height="10.225" fill="#bebdc3"/>
<rect x="208.31" y="235.45" width="10.97" height="10.225" fill="#bebdc3"/>
<rect x="219.83" y="235.45" width="10.97" height="10.225" fill="#bebdc3"/>
<rect x="231.35" y="235.45" width="10.97" height="10.225" fill="#bebdc3"/>
<rect x="242.87" y="235.45" width="10.97" height="10.225" fill="#bebdc3"/>
<rect x="254.39" y="235.45" width="10.97" height="10.225" fill="#bebdc3"/>
<rect x="265.91" y="235.45" width="10.97" height="10.225" fill="#bebdc3"/>
<rect x="277.43" y="235.45" width="10.97" height="10.225" fill="#bebdc3"/>
<rect x="288.95" y="235.45" width="10.97" height="10.225" fill="#bebdc3"/>
<rect x="300.47" y="235.45" width="10.97" height="10.225" fill="#bebdc3"/>
<rect x="311.99" y="235.45" width="10.97" height="10.225" fill="#bebdc3"/>
<rect x="323.51" y="235.45" width="10.97" height="10.225" fill="#bebdc3"/>
<rect x="335.03" y="235.45" width="10.97" height="10.225" fill="#bebdc3"/>
<rect x="346.55" y="235.45" width="10.97" height="10.225" fill="#bebdc3"/>
<rect x="358.07" y="235.45" width="10.97" height="10.225" fill="#bebdc3"/>
<rect x="116.15" y="246.23" width="10.97" height="10.225" fill="#bebdc3"/>
<rect x="127.67" y="246.23" width="10.97" height="10.225" fill="#bebdc3"/>
<rect x="139.19" y="246.23" width="10.97" height="10.225" fill="#bebdc3"/>
<rect x="150.71" y="246.23" width="10.97" height="10.225" fill="#bebdc3"/>
<rect x="162.23" y="246.23" width="10.97" height="10.225" fill="#bebdc3"/>
<rect x="173.75" y="246.23" width="10.97" height="10.225" fill="#bebdc3"/>
<rect x="185.27" y="246.23" width="10.97" height="10.225" fill="#bebdc3"/>
<rect x="196.79" y="246.23" width="10.97" height="10.225" fill="#bebdc3"/>
<rect x="208.31" y="246.23" width="10.97" height="10.225" fill="#bebdc3"/>
<rect x="219.83" y="246.23" width="10.97" height="10.225" fill="#bebdc3"/>
<rect x="231.35" y="246.23" width="10.97" height="10.225" fill="#bebdc3"/>
<rect x="242.77" y="246.12" width="11.25" height="10.45" fill="#38b24c"/>
<rect x="254.39" y="246.23" width="10.97" height="10.225" fill="#bebdc3"/>
<rect x="265.91" y="246.23" width="10.97" height="10.225" fill="#bebdc3"/>
<rect x="277.43" y="246.23" width="10.97" height="10.225" fill="#bebdc3"/>
<rect x="288.95" y="246.23" width="10.97" height="10.225" fill="#bebdc3"/>
<rect x="300.47" y="246.23" width="10.97" height="10.225" fill="#bebdc3"/>
<rect x="311.99" y="246.23" width="10.97" height="10.225" fill="#bebdc3"/>
<rect x="323.51" y="246.23" width="10.97" height="10.225" fill="#bebdc3"/>
<rect x="335.03" y="246.23" width="10.97" height="10.225" fill="#bebdc3"/>
<rect x="346.55" y="246.23" width="10.97" height="10.225" fill="#bebdc3"/>
<rect x="358.07" y="246.23" width="10.97" height="10.225" fill="#bebdc3"/>
<rect x="116.15" y="257.00" width="10.97" height="10.225" fill="#bebdc3"/>
<rect x="127.67" y="257.00" width="10.97" height="10.225" fill="#bebdc3"/>
<rect x="139.19" y="257.00" width="10.97" height="10.225" fill="#bebdc3"/>
<rect x="150.71" y="257.00" width="10.97" height="10.225" fill="#bebdc3"/>
<rect x="162.23" y="257.00" width="10.97" height="10.225" fill="#bebdc3"/>
<rect x="173.75" y="257.00" width="10.97" height="10.225" fill="#bebdc3"/>
<rect x="185.27" y="257.00" width="10.97" height="10.225" fill="#bebdc3"/>
<rect x="196.79" y="257.00" width="10.97" height="10.225" fill="#bebdc3"/>
<rect x="208.31" y="257.00" width="10.97" height="10.225" fill="#bebdc3"/>
<rect x="219.83" y="257.00" width="10.97" height="10.225" fill="#bebdc3"/>
<rect x="231.25" y="256.90" width="11.25" height="10.45" fill="#38b24c"/>
<rect x="242.87" y="257.00" width="10.97" height="10.225" fill="#bebdc3"/>
<rect x="254.39" y="257.00" width="10.97" height="10.225" fill="#bebdc3"/>
<rect x="265.91" y="257.00" width="10.97" height="10.225" fill="#bebdc3"/>
<rect x="277.43" y="257.00" width="10.97" height="10.225" fill="#bebdc3"/>
<rect x="288.95" y="257.00" width="10.97" height="10.225" fill="#bebdc3"/>
<rect x="300.47" y="257.00" width="10.97" height="10.225" fill="#bebdc3"/>
<rect x="311.99" y="257.00" width="10.97" height="10.225" fill="#bebdc3"/>
<rect x="323.51" y="257.00" width="10.97" height="10.225" fill="#bebdc3"/>
<rect x="335.03" y="257.00" width="10.97" height="10.225" fill="#bebdc3"/>
<rect x="346.55" y="257.00" width="10.97" height="10.225" fill="#bebdc3"/>
<rect x="358.07" y="257.00" width="10.97" height="10.225" fill="#bebdc3"/>
<rect x="116.15" y="267.78" width="10.97" height="10.225" fill="#bebdc3"/>
<rect x="127.67" y="267.78" width="10.97" height="10.225" fill="#bebdc3"/>
<rect x="139.19" y="267.78" width="10.97" height="10.225" fill="#bebdc3"/>
<rect x="150.71" y="267.78" width="10.97" height="10.225" fill="#bebdc3"/>
<rect x="162.23" y="267.78" width="10.97" height="10.225" fill="#bebdc3"/>
<rect x="173.75" y="267.78" width="10.97" height="10.225" fill="#bebdc3"/>
<rect x="185.27" y="267.78" width="10.97" height="10.225" fill="#bebdc3"/>
<rect x="196.79" y="267.78" width="10.97" height="10.225" fill="#bebdc3"/>
<rect x="208.31" y="267.78" width="10.97" height="10.225" fill="#bebdc3"/>
<rect x="219.83" y="267.78" width="10.97" height="10.225" fill="#bebdc3"/>
<rect x="231.25" y="267.68" width="11.25" height="10.45" fill="#38b24c"/>
<rect x="242.87" y="267.78" width="10.97" height="10.225" fill="#bebdc3"/>
<rect x="254.39" y="267.78" width="10.97" height="10.225" fill="#bebdc3"/>
<rect x="265.91" y="267.78" width="10.97" height="10.225" fill="#bebdc3"/>
<rect x="277.43" y="267.78" width="10.97" height="10.225" fill="#bebdc3"/>
<rect x="288.95" y="267.78" width="10.97" height="10.225" fill="#bebdc3"/>
<rect x="300.47" y="267.78" width="10.97" height="10.225" fill="#bebdc3"/>
<rect x="311.99" y="267.78" width="10.97" height="10.225" fill="#bebdc3"/>
<rect x="323.51" y="267.78" width="10.97" height="10.225" fill="#bebdc3"/>
<rect x="335.03" y="267.78" width="10.97" height="10.225" fill="#bebdc3"/>
<rect x="346.55" y="267.78" width="10.97" height="10.225" fill="#bebdc3"/>
<rect x="358.07" y="267.78" width="10.97" height="10.225" fill="#bebdc3"/>
<rect x="116.15" y="278.55" width="10.97" height="10.225" fill="#bebdc3"/>
<rect x="127.67" y="278.55" width="10.97" height="10.225" fill="#bebdc3"/>
<rect x="139.19" y="278.55" width="10.97" height="10.225" fill="#bebdc3"/>
<rect x="150.61" y="278.45" width="11.25" height="10.45" fill="#38b24c"/>
<rect x="162.23" y="278.55" width="10.97" height="10.225" fill="#bebdc3"/>
<rect x="173.75" y="278.55" width="10.97" height="10.225" fill="#bebdc3"/>
<rect x="185.27" y="278.55" width="10.97" height="10.225" fill="#bebdc3"/>
<rect x="196.79" y="278.55" width="10.97" height="10.225" fill="#bebdc3"/>
<rect x="208.31" y="278.55" width="10.97" height="10.225" fill="#bebdc3"/>
<rect x="219.83" y="278.55" width="10.97" height="10.225" fill="#bebdc3"/>
<rect x="231.35" y="278.55" width="10.97" height="10.225" fill="#bebdc3"/>
<rect x="242.87" y="278.55" width="10.97" height="10.225" fill="#bebdc3"/>
<rect x="254.39" y="278.55" width="10.97" height="10.225" fill="#bebdc3"/>
<rect x="265.91" y="278.55" width="10.97" height="10.225" fill="#bebdc3"/>
<rect x="277.43" y="278.55" width="10.97" height="10.225" fill="#bebdc3"/>
<rect x="288.95" y="278.55" width="10.97" height="10.225" fill="#bebdc3"/>
<rect x="300.47" y="278.55" width="10.97" height="10.225" fill="#bebdc3"/>
<rect x="311.99" y="278.55" width="10.97" height="10.225" fill="#bebdc3"/>
<rect x="323.51" y="278.55" width="10.97" height="10.225" fill="#bebdc3"/>
<rect x="335.03" y="278.55" width="10.97" height="10.225" fill="#bebdc3"/>
<rect x="346.55" y="278.55" width="10.97" height="10.225" fill="#bebdc3"/>
<rect x="358.07" y="278.55" width="10.97" height="10.225" fill="#bebdc3"/>
<rect x="419.8" y="84.35" width="26" height="204.17" fill="#e0e0e4"/>
<rect x="386.70" y="85.45" width="18.15" height="9.3" fill="#38b24c"/>
<rect x="419.8" y="84.35" width="26" height="10.225" fill="#bebdc3"/>
<rect x="386.70" y="96.23" width="12.10" height="9.3" fill="#38b24c"/>
<rect x="419.8" y="95.12" width="26" height="10.225" fill="#bebdc3"/>
<rect x="386.70" y="107.00" width="12.10" height="9.3" fill="#38b24c"/>
<rect x="419.8" y="105.90" width="26" height="10.225" fill="#bebdc3"/>
<rect x="386.70" y="117.78" width="6.05" height="9.3" fill="#38b24c"/>
<rect x="392.75" y="117.78" width="6.05" height="9.3" fill="#f7931e"/>
<rect x="419.8" y="116.67" width="26" height="10.225" fill="#bebdc3"/>
<rect x="386.70" y="128.55" width="6.05" height="9.3" fill="#38b24c"/>
<rect x="392.75" y="128.55" width="6.05" height="9.3" fill="#c8102e"/>
<rect x="419.8" y="127.45" width="26" height="10.225" fill="#bebdc3"/>
<rect x="386.70" y="139.33" width="12.10" height="9.3" fill="#38b24c"/>
<rect x="419.8" y="138.23" width="26" height="10.225" fill="#bebdc3"/>
<rect x="386.70" y="150.10" width="6.05" height="9.3" fill="#38b24c"/>
<rect x="392.75" y="150.10" width="6.05" height="9.3" fill="#c8102e"/>
<rect x="419.8" y="149.00" width="26" height="10.225" fill="#bebdc3"/>
<rect x="386.70" y="160.88" width="12.10" height="9.3" fill="#38b24c"/>
<rect x="419.8" y="159.78" width="26" height="10.225" fill="#bebdc3"/>
<rect x="386.70" y="171.65" width="6.05" height="9.3" fill="#38b24c"/>
<rect x="419.8" y="170.55" width="26" height="10.225" fill="#bebdc3"/>
<rect x="386.70" y="182.43" width="6.05" height="9.3" fill="#38b24c"/>
<rect x="419.8" y="181.33" width="26" height="10.225" fill="#bebdc3"/>
<rect x="386.70" y="193.20" width="6.05" height="9.3" fill="#1b4f8a"/>
<rect x="419.8" y="192.10" width="26" height="10.225" fill="#bebdc3"/>
<rect x="386.70" y="203.97" width="6.05" height="9.3" fill="#2aaae2"/>
<rect x="419.8" y="202.88" width="26" height="10.225" fill="#bebdc3"/>
<rect x="386.70" y="214.75" width="6.05" height="9.3" fill="#f7931e"/>
<rect x="419.8" y="213.65" width="26" height="10.225" fill="#bebdc3"/>
<rect x="386.70" y="225.53" width="6.05" height="9.3" fill="#38b24c"/>
<rect x="419.8" y="224.43" width="26" height="10.225" fill="#bebdc3"/>
<rect x="386.70" y="236.30" width="6.05" height="9.3" fill="#c8102e"/>
<rect x="419.8" y="235.20" width="26" height="10.225" fill="#bebdc3"/>
<rect x="386.70" y="247.08" width="6.05" height="9.3" fill="#38b24c"/>
<rect x="419.8" y="245.98" width="26" height="10.225" fill="#bebdc3"/>
<rect x="386.70" y="257.85" width="6.05" height="9.3" fill="#38b24c"/>
<rect x="419.8" y="256.75" width="26" height="10.225" fill="#bebdc3"/>
<rect x="386.70" y="268.62" width="6.05" height="9.3" fill="#38b24c"/>
<rect x="419.8" y="267.53" width="26" height="10.225" fill="#bebdc3"/>
<rect x="386.70" y="279.40" width="6.05" height="9.3" fill="#38b24c"/>
<rect x="419.8" y="278.30" width="26" height="10.225" fill="#bebdc3"/>
<rect x="116.10" y="316.90" width="12.12" height="11.10" fill="#d36c69"/>
<rect x="116.10" y="327.40" width="12.12" height="11.40" fill="#d9576f"/>
<rect x="116.10" y="338.20" width="12.12" height="10.70" fill="#cf2747"/>
<rect x="127.62" y="316.90" width="12.12" height="11.10" fill="#eeb7c2"/>
<rect x="127.62" y="327.40" width="12.12" height="11.40" fill="#eeb7c2"/>
<rect x="127.62" y="338.20" width="12.12" height="10.70" fill="#eeb7c2"/>
<rect x="139.14" y="316.90" width="12.12" height="11.10" fill="#d9576f"/>
<rect x="139.14" y="327.40" width="12.12" height="11.40" fill="#b9bbc0"/>
<rect x="139.14" y="338.20" width="12.12" height="10.70" fill="#cf2747"/>
<rect x="150.66" y="316.90" width="12.12" height="11.10" fill="#d9576f"/>
<rect x="150.66" y="327.40" width="12.12" height="11.40" fill="#d9576f"/>
<rect x="150.66" y="338.20" width="12.12" height="10.70" fill="#cf2747"/>
<rect x="162.18" y="316.90" width="12.12" height="11.10" fill="#d9576f"/>
<rect x="162.18" y="327.40" width="12.12" height="11.40" fill="#d9576f"/>
<rect x="162.18" y="338.20" width="12.12" height="10.70" fill="#eeb7c2"/>
<rect x="173.70" y="316.90" width="12.12" height="11.10" fill="#d9576f"/>
<rect x="173.70" y="327.40" width="12.12" height="11.40" fill="#eeb7c2"/>
<rect x="173.70" y="338.20" width="12.12" height="10.70" fill="#cf2747"/>
<rect x="185.22" y="316.90" width="12.12" height="11.10" fill="#e3899a"/>
<rect x="185.22" y="327.40" width="12.12" height="11.40" fill="#eeb7c2"/>
<rect x="185.22" y="338.20" width="12.12" height="10.70" fill="#eeb7c2"/>
<rect x="196.74" y="316.90" width="12.12" height="11.10" fill="#e3899a"/>
<rect x="196.74" y="327.40" width="12.12" height="11.40" fill="#eeb7c2"/>
<rect x="196.74" y="338.20" width="12.12" height="10.70" fill="#cf2747"/>
<rect x="208.26" y="316.90" width="12.12" height="11.10" fill="#cf2747"/>
<rect x="208.26" y="327.40" width="12.12" height="11.40" fill="#eeb7c2"/>
<rect x="208.26" y="338.20" width="12.12" height="10.70" fill="#cf2747"/>
<rect x="219.78" y="316.90" width="12.12" height="11.10" fill="#e3899a"/>
<rect x="219.78" y="327.40" width="12.12" height="11.40" fill="#eeb7c2"/>
<rect x="219.78" y="338.20" width="12.12" height="10.70" fill="#eeb7c2"/>
<rect x="231.30" y="316.90" width="12.12" height="11.10" fill="#d9576f"/>
<rect x="231.30" y="327.40" width="12.12" height="11.40" fill="#eeb7c2"/>
<rect x="231.30" y="338.20" width="12.12" height="10.70" fill="#cf2747"/>
<rect x="242.82" y="316.90" width="12.12" height="11.10" fill="#d9576f"/>
<rect x="242.82" y="327.40" width="12.12" height="11.40" fill="#cf2747"/>
<rect x="242.82" y="338.20" width="12.12" height="10.70" fill="#eeb7c2"/>
<rect x="254.34" y="316.90" width="12.12" height="11.10" fill="#e3899a"/>
<rect x="254.34" y="327.40" width="12.12" height="11.40" fill="#eeb7c2"/>
<rect x="254.34" y="338.20" width="12.12" height="10.70" fill="#cf2747"/>
<rect x="265.86" y="316.90" width="12.12" height="11.10" fill="#e3899a"/>
<rect x="265.86" y="327.40" width="12.12" height="11.40" fill="#eeb7c2"/>
<rect x="265.86" y="338.20" width="12.12" height="10.70" fill="#eeb7c2"/>
<rect x="277.38" y="316.90" width="12.12" height="11.10" fill="#d9576f"/>
<rect x="277.38" y="327.40" width="12.12" height="11.40" fill="#b9bbc0"/>
<rect x="277.38" y="338.20" width="12.12" height="10.70" fill="#eeb7c2"/>
<rect x="288.90" y="316.90" width="12.12" height="11.10" fill="#d9576f"/>
<rect x="288.90" y="327.40" width="12.12" height="11.40" fill="#eeb7c2"/>
<rect x="288.90" y="338.20" width="12.12" height="10.70" fill="#eeb7c2"/>
<rect x="300.42" y="316.90" width="12.12" height="11.10" fill="#eeb7c2"/>
<rect x="300.42" y="327.40" width="12.12" height="11.40" fill="#eeb7c2"/>
<rect x="300.42" y="338.20" width="12.12" height="10.70" fill="#eeb7c2"/>
<rect x="311.94" y="316.90" width="12.12" height="11.10" fill="#e3899a"/>
<rect x="311.94" y="327.40" width="12.12" height="11.40" fill="#eeb7c2"/>
<rect x="311.94" y="338.20" width="12.12" height="10.70" fill="#eeb7c2"/>
<rect x="323.46" y="316.90" width="12.12" height="11.10" fill="#e3899a"/>
<rect x="323.46" y="327.40" width="12.12" height="11.40" fill="#d9576f"/>
<rect x="323.46" y="338.20" width="12.12" height="10.70" fill="#cf2747"/>
<rect x="334.98" y="316.90" width="12.12" height="11.10" fill="#d36c69"/>
<rect x="334.98" y="327.40" width="12.12" height="11.40" fill="#eeb7c2"/>
<rect x="334.98" y="338.20" width="12.12" height="10.70" fill="#cf2747"/>
<rect x="346.50" y="316.90" width="12.12" height="11.10" fill="#eeb7c2"/>
<rect x="346.50" y="327.40" width="12.12" height="11.40" fill="#d9576f"/>
<rect x="346.50" y="338.20" width="12.12" height="10.70" fill="#cf2747"/>
<rect x="358.02" y="316.90" width="11.52" height="11.10" fill="#eeb7c2"/>
<rect x="358.02" y="327.40" width="11.52" height="11.40" fill="#eeb7c2"/>
<rect x="358.02" y="338.20" width="11.52" height="10.70" fill="#eeb7c2"/>
<rect x="87.9" y="366.25" width="3.2" height="3.5" fill="#38b24c"/>
<rect x="87.9" y="375.05" width="3.2" height="3.5" fill="#1b4f8a"/>
<rect x="87.9" y="383.85" width="3.2" height="3.5" fill="#2aaae2"/>
<rect x="87.9" y="392.65" width="3.2" height="3.5" fill="#f7931e"/>
<rect x="87.9" y="401.45" width="3.2" height="3.5" fill="#c8102e"/>
<rect x="181.4" y="366.25" width="3.2" height="3.5" fill="#eeb7c2"/>
<rect x="181.4" y="375.05" width="3.2" height="3.5" fill="#e3899a"/>
<rect x="181.4" y="383.85" width="3.2" height="3.5" fill="#d9576f"/>
<rect x="181.4" y="392.65" width="3.2" height="3.5" fill="#d36c69"/>
<rect x="181.4" y="401.45" width="3.2" height="3.5" fill="#c8102e"/>
<rect x="244.70000000000002" y="366.25" width="3.2" height="3.5" fill="#eeb7c2"/>
<rect x="244.70000000000002" y="374.75" width="3.2" height="3.5" fill="#e3899a"/>
<rect x="244.70000000000002" y="383.25" width="3.2" height="3.5" fill="#d9576f"/>
<rect x="244.70000000000002" y="391.75" width="3.2" height="3.5" fill="#b9bbc0"/>
<rect x="328.7" y="365.85" width="3.2" height="3.5" fill="#cf2747"/>
<rect x="328.7" y="374.55" width="3.2" height="3.5" fill="#eeb7c2"/>
<rect x="328" y="384.2" width="40" height="10.1" fill="#d9586f"/>
<circle cx="331.3" cy="398.4" r="0.8" fill="#222"/>
<path d="M52.20 457.70 H88.50 V462.83 H103.80 V467.96 H111.90 V474.26 H118.30 V480.47 H133.70 V487.13 H186.40 V499.10 H194.70 V511.52 H230.30 V511.52" fill="none" stroke="#6aa6d8" stroke-width="0.95"/>
<path d="M52.20 457.70 H82.30 V480.20 H90.80 V502.70 H101.30 V525.20 H129.00 V547.70" fill="none" stroke="#f7ab74" stroke-width="0.95"/>
<rect x="52.2" y="453.4" width="178.10000000000002" height="98.70000000000005" fill="none" stroke="#2b2b2b" stroke-width="1.1"/>
<line x1="48.800000000000004" y1="547.40" x2="52.2" y2="547.40" stroke="#2b2b2b" stroke-width="0.9"/>
<line x1="48.800000000000004" y1="529.40" x2="52.2" y2="529.40" stroke="#2b2b2b" stroke-width="0.9"/>
<line x1="48.800000000000004" y1="511.40" x2="52.2" y2="511.40" stroke="#2b2b2b" stroke-width="0.9"/>
<line x1="48.800000000000004" y1="493.40" x2="52.2" y2="493.40" stroke="#2b2b2b" stroke-width="0.9"/>
<line x1="48.800000000000004" y1="475.40" x2="52.2" y2="475.40" stroke="#2b2b2b" stroke-width="0.9"/>
<line x1="48.800000000000004" y1="457.40" x2="52.2" y2="457.40" stroke="#2b2b2b" stroke-width="0.9"/>
<line x1="52.20" y1="552.1" x2="52.20" y2="555.4" stroke="#2b2b2b" stroke-width="0.9"/>
<line x1="73.40" y1="552.1" x2="73.40" y2="555.4" stroke="#2b2b2b" stroke-width="0.9"/>
<line x1="94.60" y1="552.1" x2="94.60" y2="555.4" stroke="#2b2b2b" stroke-width="0.9"/>
<line x1="115.80" y1="552.1" x2="115.80" y2="555.4" stroke="#2b2b2b" stroke-width="0.9"/>
<line x1="137.00" y1="552.1" x2="137.00" y2="555.4" stroke="#2b2b2b" stroke-width="0.9"/>
<line x1="158.20" y1="552.1" x2="158.20" y2="555.4" stroke="#2b2b2b" stroke-width="0.9"/>
<line x1="179.40" y1="552.1" x2="179.40" y2="555.4" stroke="#2b2b2b" stroke-width="0.9"/>
<line x1="200.60" y1="552.1" x2="200.60" y2="555.4" stroke="#2b2b2b" stroke-width="0.9"/>
<line x1="221.80" y1="552.1" x2="221.80" y2="555.4" stroke="#2b2b2b" stroke-width="0.9"/>
<line x1="202.3" y1="457.6" x2="212.20000000000002" y2="457.6" stroke="#6aa6d8" stroke-width="1.1"/>
<line x1="202.3" y1="464.2" x2="212.20000000000002" y2="464.2" stroke="#f7ab74" stroke-width="1.1"/>
<path d="M317.30 458.00 H374.80 V465.40 H381.50 V472.90 H391.70 V480.30 H447.40 V493.68 H455.60 V507.06 H490.80 V507.06" fill="none" stroke="#6aa6d8" stroke-width="0.95"/>
<path d="M317.30 458.00 H346.00 V470.76 H352.30 V483.51 H354.20 V496.27 H364.80 V508.93 H366.70 V521.69 H395.60 V547.20" fill="none" stroke="#f7ab74" stroke-width="0.95"/>
<rect x="317.3" y="453.4" width="173.5" height="98.10000000000002" fill="none" stroke="#2b2b2b" stroke-width="1.1"/>
<line x1="313.90000000000003" y1="546.90" x2="317.3" y2="546.90" stroke="#2b2b2b" stroke-width="0.9"/>
<line x1="313.90000000000003" y1="529.06" x2="317.3" y2="529.06" stroke="#2b2b2b" stroke-width="0.9"/>
<line x1="313.90000000000003" y1="511.22" x2="317.3" y2="511.22" stroke="#2b2b2b" stroke-width="0.9"/>
<line x1="313.90000000000003" y1="493.38" x2="317.3" y2="493.38" stroke="#2b2b2b" stroke-width="0.9"/>
<line x1="313.90000000000003" y1="475.54" x2="317.3" y2="475.54" stroke="#2b2b2b" stroke-width="0.9"/>
<line x1="313.90000000000003" y1="457.70" x2="317.3" y2="457.70" stroke="#2b2b2b" stroke-width="0.9"/>
<line x1="317.30" y1="551.5" x2="317.30" y2="554.8" stroke="#2b2b2b" stroke-width="0.9"/>
<line x1="337.93" y1="551.5" x2="337.93" y2="554.8" stroke="#2b2b2b" stroke-width="0.9"/>
<line x1="358.55" y1="551.5" x2="358.55" y2="554.8" stroke="#2b2b2b" stroke-width="0.9"/>
<line x1="379.18" y1="551.5" x2="379.18" y2="554.8" stroke="#2b2b2b" stroke-width="0.9"/>
<line x1="399.80" y1="551.5" x2="399.80" y2="554.8" stroke="#2b2b2b" stroke-width="0.9"/>
<line x1="420.43" y1="551.5" x2="420.43" y2="554.8" stroke="#2b2b2b" stroke-width="0.9"/>
<line x1="441.05" y1="551.5" x2="441.05" y2="554.8" stroke="#2b2b2b" stroke-width="0.9"/>
<line x1="461.68" y1="551.5" x2="461.68" y2="554.8" stroke="#2b2b2b" stroke-width="0.9"/>
<line x1="482.30" y1="551.5" x2="482.30" y2="554.8" stroke="#2b2b2b" stroke-width="0.9"/>
<line x1="462.1" y1="457.6" x2="472.0" y2="457.6" stroke="#6aa6d8" stroke-width="1.1"/>
<line x1="462.1" y1="464.2" x2="472.0" y2="464.2" stroke="#f7ab74" stroke-width="1.1"/>
<g style="filter:grayscale(1)" stroke="#2a2a2a" stroke-width="0.22">
<text x="19.5" y="23.2" font-family='"Liberation Sans", sans-serif' font-weight="bold" font-size="10.2" fill="#111">A</text>
<text x="19.8" y="438.4" font-family='"Liberation Sans", sans-serif' font-weight="bold" font-size="10.2" fill="#111">B</text>
<text x="287.4" y="438.2" font-family='"Liberation Sans", sans-serif' font-weight="bold" font-size="10.2" fill="#111">C</text>
<text x="120.40" y="50.05" font-family='"Liberation Sans", sans-serif' font-size="7.3" fill="#2a2a2a" text-anchor="middle">16</text>
<text x="133.92" y="43.65" font-family='"Liberation Sans", sans-serif' font-size="7.3" fill="#2a2a2a" text-anchor="middle">20</text>
<text x="144.24" y="65.25" font-family='"Liberation Sans", sans-serif' font-size="7.3" fill="#2a2a2a" text-anchor="middle">8</text>
<text x="155.76" y="43.55" font-family='"Liberation Sans", sans-serif' font-size="7.3" fill="#2a2a2a" text-anchor="middle">20</text>
<text x="166.48" y="48.45" font-family='"Liberation Sans", sans-serif' font-size="7.3" fill="#2a2a2a" text-anchor="middle">17</text>
<text x="178.80" y="31.25" font-family='"Liberation Sans", sans-serif' font-size="7.3" fill="#2a2a2a" text-anchor="middle">27</text>
<text x="190.32" y="36.45" font-family='"Liberation Sans", sans-serif' font-size="7.3" fill="#2a2a2a" text-anchor="middle">24</text>
<text x="201.04" y="51.55" font-family='"Liberation Sans", sans-serif' font-size="7.3" fill="#2a2a2a" text-anchor="middle">15</text>
<text x="212.56" y="51.55" font-family='"Liberation Sans", sans-serif' font-size="7.3" fill="#2a2a2a" text-anchor="middle">15</text>
<text x="224.08" y="49.15" font-family='"Liberation Sans", sans-serif' font-size="7.3" fill="#2a2a2a" text-anchor="middle">16</text>
<text x="236.40" y="20.95" font-family='"Liberation Sans", sans-serif' font-size="7.3" fill="#2a2a2a" text-anchor="middle">33</text>
<text x="247.12" y="56.65" font-family='"Liberation Sans", sans-serif' font-size="7.3" fill="#2a2a2a" text-anchor="middle">12</text>
<text x="259.44" y="64.35" font-family='"Liberation Sans", sans-serif' font-size="7.3" fill="#2a2a2a" text-anchor="middle">9</text>
<text x="270.16" y="76.35" font-family='"Liberation Sans", sans-serif' font-size="7.3" fill="#2a2a2a" text-anchor="middle">1</text>
<text x="281.68" y="76.35" font-family='"Liberation Sans", sans-serif' font-size="7.3" fill="#2a2a2a" text-anchor="middle">1</text>
<text x="294.00" y="68.55" font-family='"Liberation Sans", sans-serif' font-size="7.3" fill="#2a2a2a" text-anchor="middle">6</text>
<text x="305.52" y="64.65" font-family='"Liberation Sans", sans-serif' font-size="7.3" fill="#2a2a2a" text-anchor="middle">9</text>
<text x="317.04" y="65.35" font-family='"Liberation Sans", sans-serif' font-size="7.3" fill="#2a2a2a" text-anchor="middle">8</text>
<text x="328.56" y="70.85" font-family='"Liberation Sans", sans-serif' font-size="7.3" fill="#2a2a2a" text-anchor="middle">4</text>
<text x="340.08" y="73.05" font-family='"Liberation Sans", sans-serif' font-size="7.3" fill="#2a2a2a" text-anchor="middle">2</text>
<text x="351.60" y="73.05" font-family='"Liberation Sans", sans-serif' font-size="7.3" fill="#2a2a2a" text-anchor="middle">2</text>
<text x="362.32" y="55.55" font-family='"Liberation Sans", sans-serif' font-size="7.3" fill="#2a2a2a" text-anchor="middle">13</text>
<text x="105.4" y="25.8" font-family='"Liberation Sans", sans-serif' font-size="6.5" fill="#2a2a2a" text-anchor="end">33</text>
<text x="105.4" y="82.6" font-family='"Liberation Sans", sans-serif' font-size="6.5" fill="#2a2a2a" text-anchor="end">0</text>
<text x="107.2" y="63.3" font-family='"Liberation Sans", sans-serif' font-size="7.3" fill="#2a2a2a" text-anchor="end">Median</text>
<text x="388.6" y="67.4" font-family='"Liberation Sans", sans-serif' font-size="6.3" stroke-width="0.08" fill="#2a2a2a" text-anchor="middle">Dataset freq</text>
<text x="433.6" y="66.8" font-family='"Liberation Sans", sans-serif' font-size="6.2" stroke-width="0.08" fill="#2a2a2a" text-anchor="middle">CoMMpass</text>
<text x="386.4" y="77" font-family='"Liberation Sans", sans-serif' font-size="4.8" fill="#2a2a2a" text-anchor="middle">0</text>
<text x="404.8" y="77.2" font-family='"Liberation Sans", sans-serif' font-size="4.8" fill="#2a2a2a" text-anchor="middle">3</text>
<text x="113.0" y="92.15" font-family='"Liberation Sans", sans-serif' font-style="italic" font-size="7.6" fill="#2a2a2a" text-anchor="end">KRAS</text>
<text x="113.0" y="102.92" font-family='"Liberation Sans", sans-serif' font-style="italic" font-size="7.6" fill="#2a2a2a" text-anchor="end">FRG1</text>
<text x="113.0" y="113.70" font-family='"Liberation Sans", sans-serif' font-style="italic" font-size="7.6" fill="#2a2a2a" text-anchor="end">UNC13C</text>
<text x="113.0" y="124.47" font-family='"Liberation Sans", sans-serif' font-style="italic" font-size="7.6" fill="#2a2a2a" text-anchor="end">TRAPPC8</text>
<text x="113.0" y="135.25" font-family='"Liberation Sans", sans-serif' font-style="italic" font-size="7.6" fill="#2a2a2a" text-anchor="end">TRAF3</text>
<text x="113.0" y="146.03" font-family='"Liberation Sans", sans-serif' font-style="italic" font-size="7.6" fill="#2a2a2a" text-anchor="end">OGT</text>
<text x="113.0" y="156.80" font-family='"Liberation Sans", sans-serif' font-style="italic" font-size="7.6" fill="#2a2a2a" text-anchor="end">FRMPD3</text>
<text x="113.0" y="167.57" font-family='"Liberation Sans", sans-serif' font-style="italic" font-size="7.6" fill="#2a2a2a" text-anchor="end">DIS3</text>
<text x="113.0" y="178.35" font-family='"Liberation Sans", sans-serif' font-style="italic" font-size="7.6" fill="#2a2a2a" text-anchor="end">NRAS</text>
<text x="113.0" y="189.12" font-family='"Liberation Sans", sans-serif' font-style="italic" font-size="7.6" fill="#2a2a2a" text-anchor="end">SF3B1</text>
<text x="113.0" y="199.90" font-family='"Liberation Sans", sans-serif' font-style="italic" font-size="7.6" fill="#2a2a2a" text-anchor="end">NFKBIA</text>
<text x="113.0" y="210.67" font-family='"Liberation Sans", sans-serif' font-style="italic" font-size="7.6" fill="#2a2a2a" text-anchor="end">IKZF3</text>
<text x="113.0" y="221.45" font-family='"Liberation Sans", sans-serif' font-style="italic" font-size="7.6" fill="#2a2a2a" text-anchor="end">DDB1</text>
<text x="113.0" y="232.22" font-family='"Liberation Sans", sans-serif' font-style="italic" font-size="7.6" fill="#2a2a2a" text-anchor="end">MYC</text>
<text x="113.0" y="243.00" font-family='"Liberation Sans", sans-serif' font-style="italic" font-size="7.6" fill="#2a2a2a" text-anchor="end">BTG1</text>
<text x="113.0" y="253.78" font-family='"Liberation Sans", sans-serif' font-style="italic" font-size="7.6" fill="#2a2a2a" text-anchor="end">WNK3</text>
<text x="113.0" y="264.55" font-family='"Liberation Sans", sans-serif' font-style="italic" font-size="7.6" fill="#2a2a2a" text-anchor="end">PSMC6</text>
<text x="113.0" y="275.33" font-family='"Liberation Sans", sans-serif' font-style="italic" font-size="7.6" fill="#2a2a2a" text-anchor="end">PSMC3IP</text>
<text x="113.0" y="286.10" font-family='"Liberation Sans", sans-serif' font-style="italic" font-size="7.6" fill="#2a2a2a" text-anchor="end">TNFRSF17</text>
<text x="369.70" y="92.55" font-family='"Liberation Sans", sans-serif' font-size="7.6" stroke-width="0.06" fill="#333">14%</text>
<text x="432.9" y="91.85" font-family='"Liberation Sans", sans-serif' font-size="6.7" stroke-width="0.05" fill="#3a3a3a" text-anchor="middle">24%</text>
<text x="370.60" y="103.33" font-family='"Liberation Sans", sans-serif' font-size="7.6" stroke-width="0.06" fill="#333">9%</text>
<text x="432.9" y="102.62" font-family='"Liberation Sans", sans-serif' font-size="6.7" stroke-width="0.05" fill="#3a3a3a" text-anchor="middle">0.3%</text>
<text x="370.60" y="114.10" font-family='"Liberation Sans", sans-serif' font-size="7.6" stroke-width="0.06" fill="#333">9%</text>
<text x="432.9" y="113.40" font-family='"Liberation Sans", sans-serif' font-size="6.7" stroke-width="0.05" fill="#3a3a3a" text-anchor="middle">3%</text>
<text x="370.60" y="124.88" font-family='"Liberation Sans", sans-serif' font-size="7.6" stroke-width="0.06" fill="#333">9%</text>
<text x="432.9" y="124.17" font-family='"Liberation Sans", sans-serif' font-size="6.7" stroke-width="0.05" fill="#3a3a3a" text-anchor="middle">1%</text>
<text x="370.60" y="135.65" font-family='"Liberation Sans", sans-serif' font-size="7.6" stroke-width="0.06" fill="#333">9%</text>
<text x="432.9" y="134.95" font-family='"Liberation Sans", sans-serif' font-size="6.7" stroke-width="0.05" fill="#3a3a3a" text-anchor="middle">8%</text>
<text x="370.60" y="146.43" font-family='"Liberation Sans", sans-serif' font-size="7.6" stroke-width="0.06" fill="#333">9%</text>
<text x="432.9" y="145.73" font-family='"Liberation Sans", sans-serif' font-size="6.7" stroke-width="0.05" fill="#3a3a3a" text-anchor="middle">3%</text>
<text x="370.60" y="157.20" font-family='"Liberation Sans", sans-serif' font-size="7.6" stroke-width="0.06" fill="#333">9%</text>
<text x="432.9" y="156.50" font-family='"Liberation Sans", sans-serif' font-size="6.7" stroke-width="0.05" fill="#3a3a3a" text-anchor="middle">1%</text>
<text x="370.60" y="167.97" font-family='"Liberation Sans", sans-serif' font-size="7.6" stroke-width="0.06" fill="#333">9%</text>
<text x="432.9" y="167.28" font-family='"Liberation Sans", sans-serif' font-size="6.7" stroke-width="0.05" fill="#3a3a3a" text-anchor="middle">10%</text>
<text x="370.60" y="178.75" font-family='"Liberation Sans", sans-serif' font-size="7.6" stroke-width="0.06" fill="#333">5%</text>
<text x="432.9" y="178.05" font-family='"Liberation Sans", sans-serif' font-size="6.7" stroke-width="0.05" fill="#3a3a3a" text-anchor="middle">19%</text>
<text x="370.60" y="189.53" font-family='"Liberation Sans", sans-serif' font-size="7.6" stroke-width="0.06" fill="#333">5%</text>
<text x="432.9" y="188.83" font-family='"Liberation Sans", sans-serif' font-size="6.7" stroke-width="0.05" fill="#3a3a3a" text-anchor="middle">2%</text>
<text x="370.60" y="200.30" font-family='"Liberation Sans", sans-serif' font-size="7.6" stroke-width="0.06" fill="#333">5%</text>
<text x="432.9" y="199.60" font-family='"Liberation Sans", sans-serif' font-size="6.7" stroke-width="0.05" fill="#3a3a3a" text-anchor="middle">3%</text>
<text x="370.60" y="211.07" font-family='"Liberation Sans", sans-serif' font-size="7.6" stroke-width="0.06" fill="#333">5%</text>
<text x="432.9" y="210.38" font-family='"Liberation Sans", sans-serif' font-size="6.7" stroke-width="0.05" fill="#3a3a3a" text-anchor="middle">2%</text>
<text x="370.60" y="221.85" font-family='"Liberation Sans", sans-serif' font-size="7.6" stroke-width="0.06" fill="#333">5%</text>
<text x="432.9" y="221.15" font-family='"Liberation Sans", sans-serif' font-size="6.7" stroke-width="0.05" fill="#3a3a3a" text-anchor="middle">1%</text>
<text x="370.60" y="232.62" font-family='"Liberation Sans", sans-serif' font-size="7.6" stroke-width="0.06" fill="#333">5%</text>
<text x="432.9" y="231.93" font-family='"Liberation Sans", sans-serif' font-size="6.7" stroke-width="0.05" fill="#3a3a3a" text-anchor="middle">2%</text>
<text x="370.60" y="243.40" font-family='"Liberation Sans", sans-serif' font-size="7.6" stroke-width="0.06" fill="#333">5%</text>
<text x="432.9" y="242.70" font-family='"Liberation Sans", sans-serif' font-size="6.7" stroke-width="0.05" fill="#3a3a3a" text-anchor="middle">3%</text>
<text x="370.60" y="254.18" font-family='"Liberation Sans", sans-serif' font-size="7.6" stroke-width="0.06" fill="#333">5%</text>
<text x="432.9" y="253.48" font-family='"Liberation Sans", sans-serif' font-size="6.7" stroke-width="0.05" fill="#3a3a3a" text-anchor="middle">1%</text>
<text x="370.60" y="264.95" font-family='"Liberation Sans", sans-serif' font-size="7.6" stroke-width="0.06" fill="#333">5%</text>
<text x="432.9" y="264.25" font-family='"Liberation Sans", sans-serif' font-size="6.7" stroke-width="0.05" fill="#3a3a3a" text-anchor="middle">0.4%</text>
<text x="370.60" y="275.73" font-family='"Liberation Sans", sans-serif' font-size="7.6" stroke-width="0.06" fill="#333">5%</text>
<text x="432.9" y="275.03" font-family='"Liberation Sans", sans-serif' font-size="6.7" stroke-width="0.05" fill="#3a3a3a" text-anchor="middle">NA</text>
<text x="370.60" y="286.50" font-family='"Liberation Sans", sans-serif' font-size="7.6" stroke-width="0.06" fill="#333">5%</text>
<text x="432.9" y="285.80" font-family='"Liberation Sans", sans-serif' font-size="6.7" stroke-width="0.05" fill="#3a3a3a" text-anchor="middle">NA</text>
<text transform="translate(124,291.6) rotate(-90)" font-family='"Liberation Sans", sans-serif' font-size="6.6" fill="#2a2a2a" text-anchor="end">17–069</text>
<text transform="translate(136,291.6) rotate(-90)" font-family='"Liberation Sans", sans-serif' font-size="6.6" fill="#2a2a2a" text-anchor="end">18–009</text>
<text transform="translate(147,291.6) rotate(-90)" font-family='"Liberation Sans", sans-serif' font-size="6.6" fill="#2a2a2a" text-anchor="end">17–067</text>
<text transform="translate(159,291.6) rotate(-90)" font-family='"Liberation Sans", sans-serif' font-size="6.6" fill="#2a2a2a" text-anchor="end">17–021</text>
<text transform="translate(170,291.6) rotate(-90)" font-family='"Liberation Sans", sans-serif' font-size="6.6" fill="#2a2a2a" text-anchor="end">18–109</text>
<text transform="translate(182,291.6) rotate(-90)" font-family='"Liberation Sans", sans-serif' font-size="6.6" fill="#2a2a2a" text-anchor="end">18–137</text>
<text transform="translate(193,291.6) rotate(-90)" font-family='"Liberation Sans", sans-serif' font-size="6.6" fill="#2a2a2a" text-anchor="end">17–081</text>
<text transform="translate(205,291.6) rotate(-90)" font-family='"Liberation Sans", sans-serif' font-size="6.6" fill="#2a2a2a" text-anchor="end">17–024</text>
<text transform="translate(216,291.6) rotate(-90)" font-family='"Liberation Sans", sans-serif' font-size="6.6" fill="#2a2a2a" text-anchor="end">17–046</text>
<text transform="translate(228,291.6) rotate(-90)" font-family='"Liberation Sans", sans-serif' font-size="6.6" fill="#2a2a2a" text-anchor="end">17–004</text>
<text transform="translate(239,291.6) rotate(-90)" font-family='"Liberation Sans", sans-serif' font-size="6.6" fill="#2a2a2a" text-anchor="end">18–028</text>
<text transform="translate(251,291.6) rotate(-90)" font-family='"Liberation Sans", sans-serif' font-size="6.6" fill="#2a2a2a" text-anchor="end">18–021</text>
<text transform="translate(262,291.6) rotate(-90)" font-family='"Liberation Sans", sans-serif' font-size="6.6" fill="#2a2a2a" text-anchor="end">17–005</text>
<text transform="translate(274,291.6) rotate(-90)" font-family='"Liberation Sans", sans-serif' font-size="6.6" fill="#2a2a2a" text-anchor="end">17–031</text>
<text transform="translate(285,291.6) rotate(-90)" font-family='"Liberation Sans", sans-serif' font-size="6.6" fill="#2a2a2a" text-anchor="end">17–052</text>
<text transform="translate(297,291.6) rotate(-90)" font-family='"Liberation Sans", sans-serif' font-size="6.6" fill="#2a2a2a" text-anchor="end">17–108</text>
<text transform="translate(308,291.6) rotate(-90)" font-family='"Liberation Sans", sans-serif' font-size="6.6" fill="#2a2a2a" text-anchor="end">18–034</text>
<text transform="translate(320,291.6) rotate(-90)" font-family='"Liberation Sans", sans-serif' font-size="6.6" fill="#2a2a2a" text-anchor="end">18–044</text>
<text transform="translate(331,291.6) rotate(-90)" font-family='"Liberation Sans", sans-serif' font-size="6.6" fill="#2a2a2a" text-anchor="end">18–056</text>
<text transform="translate(343,291.6) rotate(-90)" font-family='"Liberation Sans", sans-serif' font-size="6.6" fill="#2a2a2a" text-anchor="end">4866</text>
<text transform="translate(354,291.6) rotate(-90)" font-family='"Liberation Sans", sans-serif' font-size="6.6" fill="#2a2a2a" text-anchor="end">5105</text>
<text transform="translate(366,291.6) rotate(-90)" font-family='"Liberation Sans", sans-serif' font-size="6.6" fill="#2a2a2a" text-anchor="end">5259</text>
<text x="370.8" y="324.30" font-family='"Liberation Sans", sans-serif' font-size="6.05" fill="#2a2a2a">MRD depth</text>
<text x="370.8" y="335.80" font-family='"Liberation Sans", sans-serif' font-size="6.05" fill="#2a2a2a">Cytogenetic risk</text>
<text x="370.8" y="346.50" font-family='"Liberation Sans", sans-serif' font-size="6.05" fill="#2a2a2a">Progression</text>
<text x="87.2" y="361" font-family='"Liberation Sans", sans-serif' font-size="7.4" fill="#2a2a2a">Mutations</text>
<text x="94.0" y="370.50" font-family='"Liberation Sans", sans-serif' font-size="6.9" fill="#2a2a2a">Missense_Mutation</text>
<text x="94.0" y="379.30" font-family='"Liberation Sans", sans-serif' font-size="6.9" fill="#2a2a2a">Frame_Shift_Del</text>
<text x="94.0" y="388.10" font-family='"Liberation Sans", sans-serif' font-size="6.9" fill="#2a2a2a">Nonstop_Mutation</text>
<text x="94.0" y="396.90" font-family='"Liberation Sans", sans-serif' font-size="6.9" fill="#2a2a2a">Splice_Site</text>
<text x="94.0" y="405.70" font-family='"Liberation Sans", sans-serif' font-size="6.9" fill="#2a2a2a">Nonsense_Mutation</text>
<text x="181.2" y="361" font-family='"Liberation Sans", sans-serif' font-size="7.4" fill="#2a2a2a">MRD depth</text>
<text x="187.7" y="370.50" font-family='"Liberation Sans", sans-serif' font-size="6.9" fill="#2a2a2a">10e-05</text>
<text x="187.7" y="379.30" font-family='"Liberation Sans", sans-serif' font-size="6.9" fill="#2a2a2a">10e-04</text>
<text x="187.7" y="388.10" font-family='"Liberation Sans", sans-serif' font-size="6.9" fill="#2a2a2a">10e-03</text>
<text x="187.7" y="396.90" font-family='"Liberation Sans", sans-serif' font-size="6.9" fill="#2a2a2a">10e-02</text>
<text x="187.7" y="405.70" font-family='"Liberation Sans", sans-serif' font-size="6.9" fill="#2a2a2a">10e-01</text>
<text x="244.2" y="361" font-family='"Liberation Sans", sans-serif' font-size="7.4" fill="#2a2a2a">Cytogenetic risk</text>
<text x="251.2" y="370.50" font-family='"Liberation Sans", sans-serif' font-size="6.9" fill="#2a2a2a">Low</text>
<text x="251.2" y="379.00" font-family='"Liberation Sans", sans-serif' font-size="6.9" fill="#2a2a2a">Intermediate</text>
<text x="251.2" y="387.50" font-family='"Liberation Sans", sans-serif' font-size="6.9" fill="#2a2a2a">High</text>
<text x="251.2" y="396.00" font-family='"Liberation Sans", sans-serif' font-size="6.9" fill="#2a2a2a">Not available</text>
<text x="327.3" y="361" font-family='"Liberation Sans", sans-serif' font-size="7.4" fill="#2a2a2a">Progression</text>
<text x="335.0" y="370.10" font-family='"Liberation Sans", sans-serif' font-size="6.9" fill="#2a2a2a">YES</text>
<text x="335.0" y="378.80" font-family='"Liberation Sans", sans-serif' font-size="6.9" fill="#2a2a2a">No</text>
<text x="330.4" y="391.8" font-family='"Liberation Sans", sans-serif' font-size="6.9" fill="#2a2a2a">Driver gene</text>
<text x="335" y="402" font-family='"Liberation Sans", sans-serif' font-size="6.9" fill="#2a2a2a">Target</text>
<text x="141.2" y="434.4" font-family='"Liberation Sans", sans-serif' font-size="7.5" fill="#2a2a2a" text-anchor="middle">MSigDB - Oncogenic signature</text>
<text x="141.2" y="442.9" font-family='"Liberation Sans", sans-serif' font-size="7.5" fill="#2a2a2a" text-anchor="middle">KRAS.600_UP.V1_UP</text>
<text x="46.30" y="550.15" font-family='"Liberation Sans", sans-serif' font-size="7.6" fill="#2a2a2a" text-anchor="end">0.0</text>
<text x="46.30" y="532.15" font-family='"Liberation Sans", sans-serif' font-size="7.6" fill="#2a2a2a" text-anchor="end">0.2</text>
<text x="46.30" y="514.15" font-family='"Liberation Sans", sans-serif' font-size="7.6" fill="#2a2a2a" text-anchor="end">0.4</text>
<text x="46.30" y="496.15" font-family='"Liberation Sans", sans-serif' font-size="7.6" fill="#2a2a2a" text-anchor="end">0.6</text>
<text x="46.30" y="478.15" font-family='"Liberation Sans", sans-serif' font-size="7.6" fill="#2a2a2a" text-anchor="end">0.8</text>
<text x="46.30" y="460.15" font-family='"Liberation Sans", sans-serif' font-size="7.6" fill="#2a2a2a" text-anchor="end">1.0</text>
<text x="52.20" y="564.30" font-family='"Liberation Sans", sans-serif' font-size="7.7" fill="#2a2a2a" text-anchor="middle">0</text>
<text x="73.40" y="564.30" font-family='"Liberation Sans", sans-serif' font-size="7.7" fill="#2a2a2a" text-anchor="middle">10</text>
<text x="94.60" y="564.30" font-family='"Liberation Sans", sans-serif' font-size="7.7" fill="#2a2a2a" text-anchor="middle">20</text>
<text x="115.80" y="564.30" font-family='"Liberation Sans", sans-serif' font-size="7.7" fill="#2a2a2a" text-anchor="middle">30</text>
<text x="137.00" y="564.30" font-family='"Liberation Sans", sans-serif' font-size="7.7" fill="#2a2a2a" text-anchor="middle">40</text>
<text x="158.20" y="564.30" font-family='"Liberation Sans", sans-serif' font-size="7.7" fill="#2a2a2a" text-anchor="middle">50</text>
<text x="179.40" y="564.30" font-family='"Liberation Sans", sans-serif' font-size="7.7" fill="#2a2a2a" text-anchor="middle">60</text>
<text x="200.60" y="564.30" font-family='"Liberation Sans", sans-serif' font-size="7.7" fill="#2a2a2a" text-anchor="middle">70</text>
<text x="221.80" y="564.30" font-family='"Liberation Sans", sans-serif' font-size="7.7" fill="#2a2a2a" text-anchor="middle">80</text>
<text transform="translate(141.25,573.90) scale(0.74,1)" stroke-width="0.45" font-family='"Liberation Sans", sans-serif' font-size="8.4" fill="#2a2a2a" text-anchor="middle">Months</text>
<text transform="translate(25.60,502.35) rotate(-90) scale(0.75,1)" stroke-width="0.4" font-family='"Liberation Sans", sans-serif' font-size="8.4" fill="#2a2a2a" text-anchor="middle">Progression probability</text>
<text x="226.30" y="545.8" font-family='"Liberation Sans", sans-serif' font-size="7.35" fill="#2a2a2a" text-anchor="end">FDR: 0.0116</text>
<text x="38.2" y="583.2" font-family='"Liberation Sans", sans-serif' font-size="7" fill="#2a2a2a">Genes: KIF5C, EFCAB6, SCN2A, SORL1</text>
<text x="215.4" y="459.9" font-family='"Liberation Sans", sans-serif' font-size="7" fill="#2a2a2a">wt</text>
<text x="215.4" y="466.6" font-family='"Liberation Sans", sans-serif' font-size="7" fill="#2a2a2a">mut</text>
<text x="394.5" y="434.4" font-family='"Liberation Sans", sans-serif' font-size="7.5" fill="#2a2a2a" text-anchor="middle">Gene - Ontology - Biological process</text>
<text x="394.5" y="442.9" font-family='"Liberation Sans", sans-serif' font-size="7.5" fill="#2a2a2a" text-anchor="middle">RAS protein signal tranduction</text>
<text x="311.40" y="549.65" font-family='"Liberation Sans", sans-serif' font-size="7.6" fill="#2a2a2a" text-anchor="end">0.0</text>
<text x="311.40" y="531.81" font-family='"Liberation Sans", sans-serif' font-size="7.6" fill="#2a2a2a" text-anchor="end">0.2</text>
<text x="311.40" y="513.97" font-family='"Liberation Sans", sans-serif' font-size="7.6" fill="#2a2a2a" text-anchor="end">0.4</text>
<text x="311.40" y="496.13" font-family='"Liberation Sans", sans-serif' font-size="7.6" fill="#2a2a2a" text-anchor="end">0.6</text>
<text x="311.40" y="478.29" font-family='"Liberation Sans", sans-serif' font-size="7.6" fill="#2a2a2a" text-anchor="end">0.8</text>
<text x="311.40" y="460.45" font-family='"Liberation Sans", sans-serif' font-size="7.6" fill="#2a2a2a" text-anchor="end">1.0</text>
<text x="317.30" y="563.70" font-family='"Liberation Sans", sans-serif' font-size="7.7" fill="#2a2a2a" text-anchor="middle">0</text>
<text x="338.48" y="563.70" font-family='"Liberation Sans", sans-serif' font-size="7.7" fill="#2a2a2a" text-anchor="middle">10</text>
<text x="359.66" y="563.70" font-family='"Liberation Sans", sans-serif' font-size="7.7" fill="#2a2a2a" text-anchor="middle">20</text>
<text x="380.84" y="563.70" font-family='"Liberation Sans", sans-serif' font-size="7.7" fill="#2a2a2a" text-anchor="middle">30</text>
<text x="402.02" y="563.70" font-family='"Liberation Sans", sans-serif' font-size="7.7" fill="#2a2a2a" text-anchor="middle">40</text>
<text x="423.20" y="563.70" font-family='"Liberation Sans", sans-serif' font-size="7.7" fill="#2a2a2a" text-anchor="middle">50</text>
<text x="444.38" y="563.70" font-family='"Liberation Sans", sans-serif' font-size="7.7" fill="#2a2a2a" text-anchor="middle">60</text>
<text x="465.56" y="563.70" font-family='"Liberation Sans", sans-serif' font-size="7.7" fill="#2a2a2a" text-anchor="middle">70</text>
<text x="486.74" y="563.70" font-family='"Liberation Sans", sans-serif' font-size="7.7" fill="#2a2a2a" text-anchor="middle">80</text>
<text transform="translate(408.65,573.30) scale(0.74,1)" stroke-width="0.45" font-family='"Liberation Sans", sans-serif' font-size="8.4" fill="#2a2a2a" text-anchor="middle">Months</text>
<text transform="translate(293.40,502.05) rotate(-90) scale(0.75,1)" stroke-width="0.4" font-family='"Liberation Sans", sans-serif' font-size="8.4" fill="#2a2a2a" text-anchor="middle">Progression probability</text>
<text x="487.50" y="545.8" font-family='"Liberation Sans", sans-serif' font-size="7.35" fill="#2a2a2a" text-anchor="end">FDR: 0.0478</text>
<text x="308.7" y="583.2" font-family='"Liberation Sans", sans-serif' font-size="7" fill="#2a2a2a">Genes: KRAS, NRAS, RASGRP3, GRAP2, PLCE1</text>
<text x="475.20000000000005" y="459.9" font-family='"Liberation Sans", sans-serif' font-size="7" fill="#2a2a2a">wt</text>
<text x="475.20000000000005" y="466.6" font-family='"Liberation Sans", sans-serif' font-size="7" fill="#2a2a2a">mut</text>
</g>
</svg>
</body></html>
